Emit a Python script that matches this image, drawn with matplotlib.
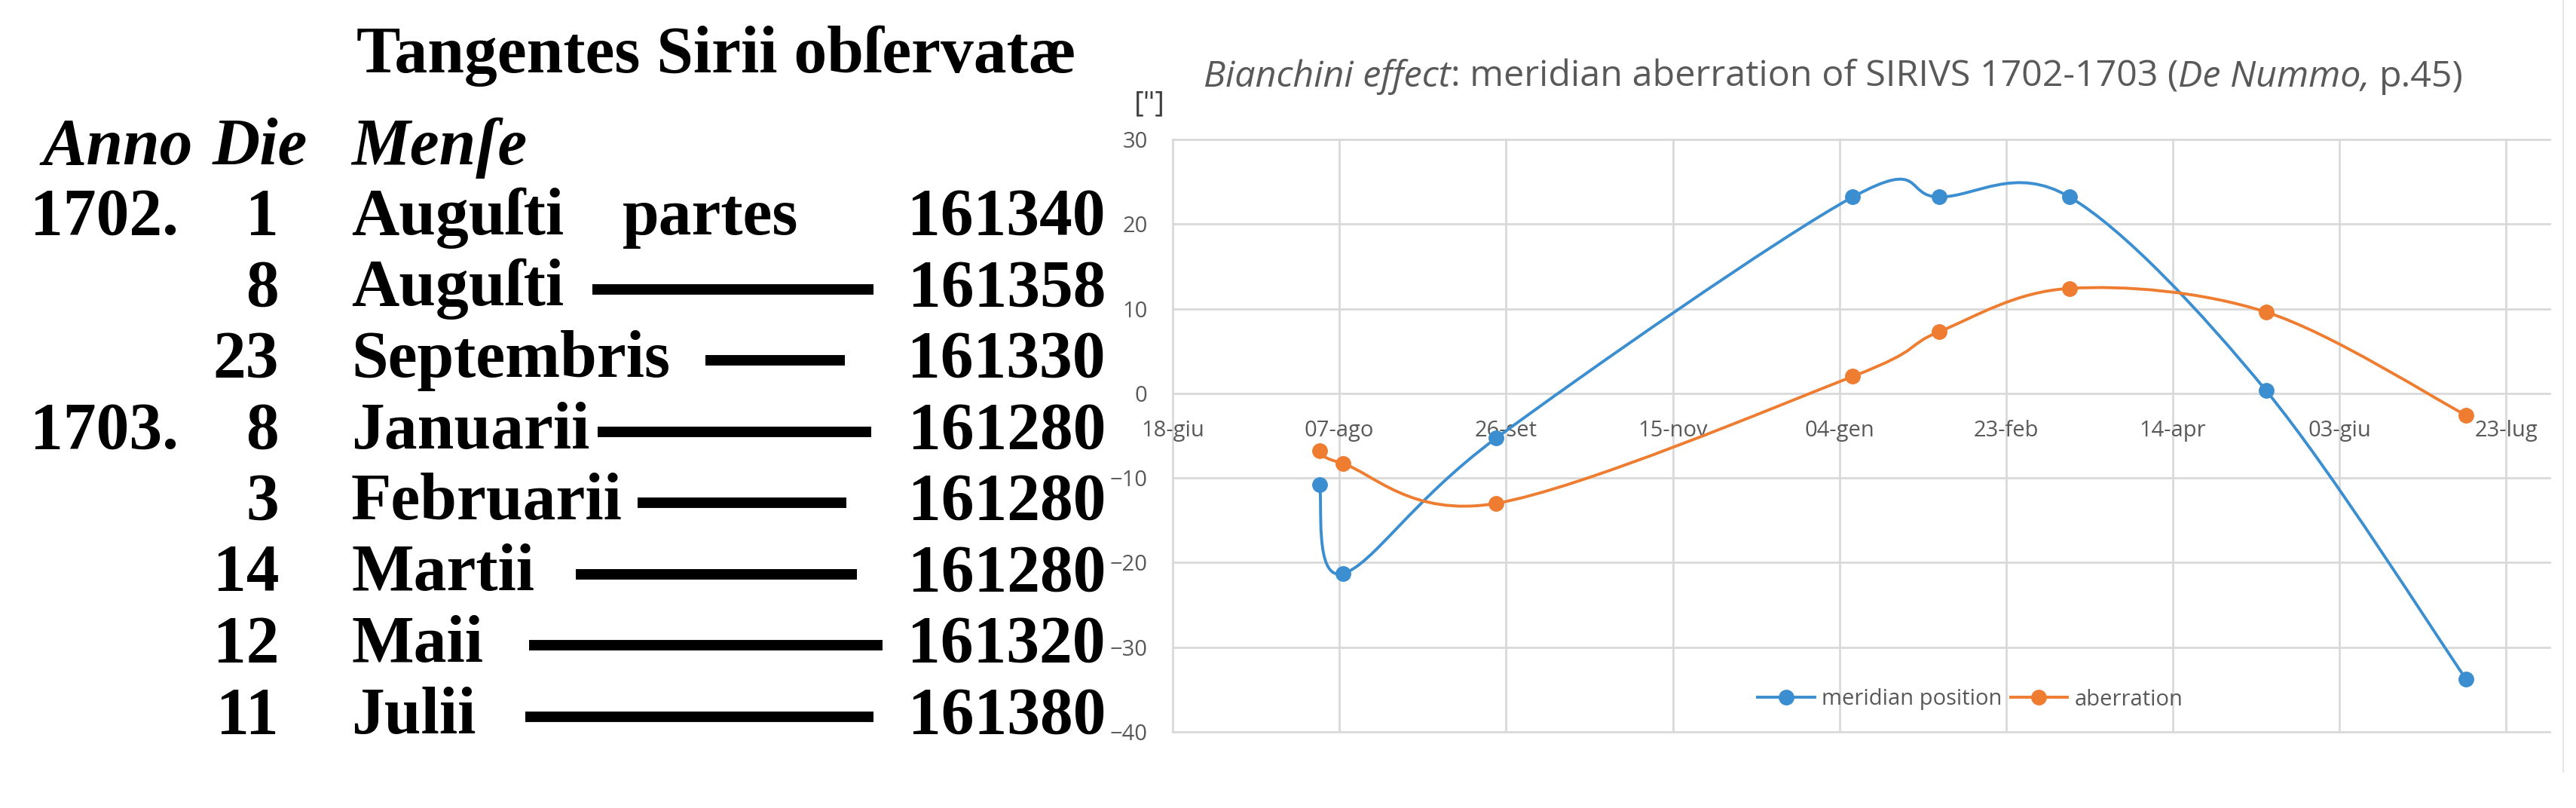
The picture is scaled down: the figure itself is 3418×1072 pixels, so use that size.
import numpy as np
import matplotlib
matplotlib.use('Agg')
import matplotlib.pyplot as plt
from matplotlib.path import Path
from matplotlib.patches import PathPatch
from matplotlib.lines import Line2D

# Tabella di Bianchini (De Nummo, p.45)
anni = ['1702.', '', '', '1703.', '', '', '', '']
dies = ['1', '8', '23', '8', '3', '14', '12', '11']
menses = ['Auguſti', 'Auguſti', 'Septembris', 'Januarii', 'Februarii', 'Martii', 'Maii', 'Julii']
tangentes = ['161340', '161358', '161330', '161280', '161280', '161280', '161320', '161380']

# Dati del grafico
date_oss = ['1702-08-01', '1702-08-08', '1702-09-23', '1703-01-08',
            '1703-02-03', '1703-03-14', '1703-05-12', '1703-07-11']
posizione = [-10.8, -21.3, -5.3, 23.2, 23.2, 23.2, 0.3, -33.8]
aberrazione = [-6.8, -8.3, -13.0, 2.0, 7.3, 12.4, 9.6, -2.6]

tick_date = ['1702-06-18', '1702-08-07', '1702-09-26', '1702-11-15', '1703-01-04',
             '1703-02-23', '1703-04-14', '1703-06-03', '1703-07-23']
tick_lab = ['18-giu', '07-ago', '26-set', '15-nov', '04-gen', '23-feb', '14-apr', '03-giu', '23-lug']
y_ticks = [-40, -30, -20, -10, 0, 10, 20, 30]

inizio = np.datetime64('1702-06-18')
x_oss = (np.array(date_oss, dtype='datetime64[D]') - inizio).astype(float)
x_tick = (np.array(tick_date, dtype='datetime64[D]') - inizio).astype(float)

blu = '#3B8ED0'
arancio = '#EE7D31'
grigio = '#595959'
serif = ['Liberation Serif', 'DejaVu Serif']
sans = ['Open Sans', 'DejaVu Sans']


# Linea smussata tipo Excel (Bezier di Catmull-Rom)
def curva(x, y):
    p = np.column_stack([x, y])
    verts = [p[0]]
    for i in range(len(p) - 1):
        p0 = p[i - 1] if i > 0 else p[i]
        p3 = p[i + 2] if i + 2 < len(p) else p[i + 1]
        verts += [p[i] + (p[i + 1] - p0) / 6, p[i + 1] - (p3 - p[i]) / 6, p[i + 1]]
    codes = [Path.MOVETO] + [Path.CURVE4] * (len(verts) - 1)
    return Path(verts, codes)


fig = plt.figure(figsize=(34.18, 10.72), dpi=100)

# Asse di sfondo in pixel per la tabella e i testi
tab = fig.add_axes([0, 0, 1, 1])
tab.set_xlim(0, 3418)
tab.set_ylim(1072, 0)
tab.axis('off')

tab.text(473, 96, 'Tangentes Sirii obſervatæ', fontsize=63, weight='bold', family=serif, va='baseline')
for testo, xx in [('Anno', 57), ('Die', 282), ('Menſe', 466)]:
    tab.text(xx, 218, testo, fontsize=63, weight='bold', style='italic', family=serif, va='baseline')

regulae = [None, (786, 1159), (936, 1121), (793, 1156), (846, 1123), (764, 1137), (702, 1171), (697, 1159)]
for i in range(len(dies)):
    yb = 311 + i * 94.5
    tab.text(40, yb, anni[i], fontsize=63, weight='bold', family=serif, va='baseline')
    tab.text(370, yb, dies[i], fontsize=63, weight='bold', family=serif, va='baseline', ha='right')
    tab.text(466, yb, menses[i], fontsize=63, weight='bold', family=serif, va='baseline')
    tab.text(1467, yb, tangentes[i], fontsize=63, weight='bold', family=serif, va='baseline', ha='right')
    if regulae[i] is not None:
        tab.plot(regulae[i], [yb - 22, yb - 22], color='black', lw=10, solid_capstyle='butt')
tab.text(826, 311, 'partes', fontsize=63, weight='bold', family=serif, va='baseline')

# Titolo con parti in corsivo, adattato alla larghezza del riferimento (1597 -> 3269 px)
fig.canvas.draw()
r = fig.canvas.get_renderer()
pezzi = [('Bianchini effect', 'italic', 0), (': meridian aberration of SIRIVS 1702-1703 (', 'normal', 0),
         ('De Nummo,', 'italic', 0), ('p.45)', 'normal', 0.26)]


def scrivi_titolo(fs):
    x = 1597
    testi = []
    for testo, stile, gap in pezzi:
        x += gap * fs * 100 / 72
        t = tab.text(x, 115, testo, fontsize=fs, style=stile, color=grigio, family=sans, va='baseline')
        x += t.get_window_extent(r).width
        testi.append(t)
    return x, testi


fine, prova = scrivi_titolo(30)
for t in prova:
    t.remove()
scrivi_titolo(30 * (3269 - 1597) / (fine - 1597))

tab.text(1525, 138, '["]', ha='center', va='center', fontsize=28, family=sans, color='#3f3f3f')
tab.plot([3401, 3401], [0, 1024], color='#e6e6e6', lw=1.5)

# Grafico
ax = fig.add_axes([1556 / 3418, (1072 - 971) / 1072, 1827 / 3418, 786 / 1072])
ax.set_facecolor('none')
ax.set_xlim(0, 413)
ax.set_ylim(-40, 30)
ax.set_xticks(x_tick)
ax.set_xticklabels(tick_lab)
ax.set_yticks(y_ticks)
for s in ax.spines.values():
    s.set_visible(False)
ax.spines['bottom'].set_position(('data', 0))
ax.tick_params(length=0, labelsize=21, labelcolor=grigio)
ax.tick_params(axis='x', pad=25)
ax.tick_params(axis='y', pad=24)
ax.grid(True, color='#d9d9d9', lw=2)
ax.set_axisbelow(True)
for g in ax.get_xgridlines() + ax.get_ygridlines():
    g.set_clip_on(False)
for lab in ax.get_xticklabels() + ax.get_yticklabels():
    lab.set_family(sans)

ax.add_patch(PathPatch(curva(x_oss, posizione), fill=False, edgecolor=blu, lw=2.8, zorder=3))
ax.plot(x_oss, posizione, 'o', color=blu, ms=14, zorder=4)
ax.add_patch(PathPatch(curva(x_oss, aberrazione), fill=False, edgecolor=arancio, lw=2.8, zorder=5))
ax.plot(x_oss, aberrazione, 'o', color=arancio, ms=14, zorder=6)

maniglie = [Line2D([], [], color=blu, lw=2.8, marker='o', ms=14),
            Line2D([], [], color=arancio, lw=2.8, marker='o', ms=14)]
fig.legend(maniglie, ['meridian position', 'aberration'], ncol=2, frameon=False, loc='center',
           bbox_to_anchor=(2614 / 3418, 1 - 928 / 1072), prop={'family': sans, 'size': 21},
           labelcolor=grigio, handlelength=2.6, handletextpad=0.3, columnspacing=0.4)

fig.savefig('out.png', dpi=100)
